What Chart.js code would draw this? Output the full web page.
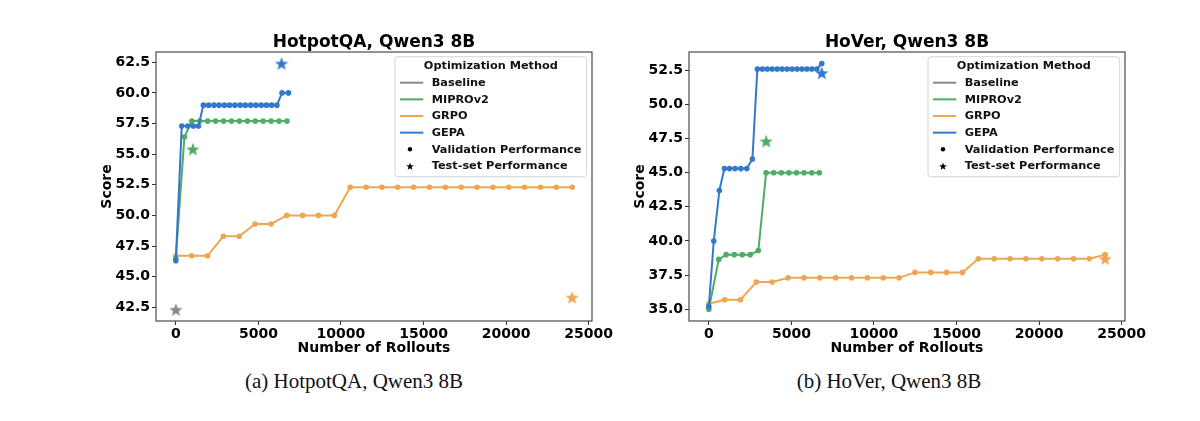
<!DOCTYPE html>
<html>
<head>
<meta charset="utf-8">
<script src="https://cdn.jsdelivr.net/npm/chart.js@4.4.1/dist/chart.umd.min.js"></script>
<style>
    body { margin: 0; background: #fff; width: 1200px; height: 421px; position: relative; overflow: hidden; }
    canvas { position: absolute; top: 0; }
    #hotpot { left: 0; }
    #hover { left: 600px; }
    .caption { position: absolute; top: 369px; line-height: 24px; font-family: "Liberation Serif", serif; font-size: 21px; color: #111; transform: translateX(-50%); white-space: nowrap; }
</style>
</head>
<body>
<canvas id="hotpot" width="620" height="365"></canvas>
<canvas id="hover" width="600" height="365"></canvas>
<div class="caption" style="left:354px">(a) HotpotQA, Qwen3 8B</div>
<div class="caption" style="left:889px">(b) HoVer, Qwen3 8B</div>
<script>
// values
const methods = ['Baseline', 'MIPROv2', 'GRPO', 'GEPA'];
const markerLabels = ['Validation Performance', 'Test-set Performance'];
const xTicks = [0, 5000, 10000, 15000, 20000, 25000];
const hotpotYTicks = [42.5, 45.0, 47.5, 50.0, 52.5, 55.0, 57.5, 60.0, 62.5];
const hoverYTicks = [35.0, 37.5, 40.0, 42.5, 45.0, 47.5, 50.0, 52.5];

// GRPO is checkpointed at the same rollout counts in both panels
const grpoX = [0, 960, 1920, 2880, 3840, 4800, 5760, 6720, 7680, 8640, 9600, 10560, 11520,
    12480, 13440, 14400, 15360, 16320, 17280, 18240, 19200, 20160, 21120, 22080, 23040, 24000];

// HotpotQA
const hotpotGepaX = [0, 360, 720, 1060, 1370, 1670, 1990, 2310, 2620, 2940, 3260, 3580, 3900,
    4210, 4530, 4850, 5170, 5480, 5800, 6120, 6430, 6820];
const hotpotGepaY = [46.3, 57.3, 57.3, 57.3, 57.3, 59.0, 59.0, 59.0, 59.0, 59.0, 59.0, 59.0, 59.0,
    59.0, 59.0, 59.0, 59.0, 59.0, 59.0, 59.0, 60.0, 60.0];
const hotpotMiproX = [0, 520, 970, 1450, 1930, 2410, 2890, 3370, 3850, 4330, 4810, 5290, 5770, 6250, 6730];
const hotpotMiproY = [46.5, 56.4, 57.7, 57.7, 57.7, 57.7, 57.7, 57.7, 57.7, 57.7, 57.7, 57.7, 57.7, 57.7, 57.7];
const hotpotGrpoY = [46.7, 46.7, 46.7, 48.3, 48.3, 49.3, 49.3, 50.0, 50.0, 50.0, 50.0, 52.3, 52.3,
    52.3, 52.3, 52.3, 52.3, 52.3, 52.3, 52.3, 52.3, 52.3, 52.3, 52.3, 52.3, 52.3];
// test-set stars
const hotpotTestMethods = ['Baseline', 'MIPROv2', 'GRPO', 'GEPA'];
const hotpotTestX = [0, 1030, 24000, 6400];
const hotpotTestY = [42.3, 55.4, 43.3, 62.4];

// HoVer
const hoverGepaX = [0, 300, 640, 945, 1250, 1590, 1940, 2300, 2640, 2940, 3240, 3540, 3840, 4140,
    4440, 4740, 5040, 5340, 5640, 5940, 6240, 6540, 6840];
const hoverGepaY = [35.2, 40.0, 43.7, 45.3, 45.3, 45.3, 45.3, 45.3, 46.0, 52.6, 52.6, 52.6, 52.6, 52.6,
    52.6, 52.6, 52.6, 52.6, 52.6, 52.6, 52.6, 52.6, 53.0];
const hoverMiproX = [0, 600, 1050, 1540, 2030, 2510, 3000, 3470, 3930, 4390, 4850, 5310, 5770, 6230, 6690];
const hoverMiproY = [35.0, 38.65, 39.0, 39.0, 39.0, 39.0, 39.3, 45.0, 45.0, 45.0, 45.0, 45.0, 45.0, 45.0, 45.0];
const hoverGrpoY = [35.4, 35.7, 35.7, 37.0, 37.0, 37.3, 37.3, 37.3, 37.3, 37.3, 37.3, 37.3, 37.3,
    37.7, 37.7, 37.7, 37.7, 38.7, 38.7, 38.7, 38.7, 38.7, 38.7, 38.7, 38.7, 39.0];
const hoverTestMethods = ['MIPROv2', 'GRPO', 'GEPA'];
const hoverTestX = [3470, 24000, 6840];
const hoverTestY = [47.3, 38.7, 52.3];

const colors = {
    Baseline: 'rgb(138, 138, 138)',
    MIPROv2: 'rgb(78, 172, 104)',
    GRPO: 'rgb(238, 166, 82)',
    GEPA: 'rgb(50, 120, 205)'
};
const FONT = 'DejaVu Sans';

Chart.defaults.font.family = FONT;
Chart.defaults.color = '#000';

function pairs(xs, ys) {
    return xs.map((x, i) => ({ x: x, y: ys[i] }));
}

function starImage(color, size) {
    const c = document.createElement('canvas');
    c.width = size;
    c.height = size;
    const g = c.getContext('2d');
    const r = size / 2;
    g.beginPath();
    for (let i = 0; i < 10; i++) {
        const a = -Math.PI / 2 + i * Math.PI / 5;
        const rr = i % 2 ? r * 0.42 : r;
        g.lineTo(r + rr * Math.cos(a), r + 0.6 + rr * Math.sin(a));
    }
    g.closePath();
    g.fillStyle = color;
    g.fill();
    return c;
}

function lineSet(name, xs, ys, order) {
    return {
        label: name,
        data: pairs(xs, ys),
        borderColor: colors[name],
        backgroundColor: colors[name],
        borderWidth: 2,
        pointRadius: 2.8,
        pointBorderWidth: 0,
        pointBackgroundColor: colors[name],
        tension: 0,
        order: order
    };
}

// title, frame and legend box, placed against the chart area
const panelDecor = {
    id: 'panelDecor',
    afterDatasetsDraw(chart, args, opts) {
        const ctx = chart.ctx;
        const a = chart.chartArea;
        ctx.save();

        ctx.strokeStyle = '#3a3a3a';
        ctx.lineWidth = 1.1;
        ctx.strokeRect(a.left, a.top, a.right - a.left, a.bottom - a.top);

        ctx.fillStyle = '#000';
        ctx.font = 'bold 17px ' + FONT;
        ctx.textAlign = 'center';
        ctx.textBaseline = 'alphabetic';
        ctx.fillText(opts.title, (a.left + a.right) / 2, 47);

        const w = 191.7, h = 120;
        const bx = a.right - 5.3 - w;
        const by = a.top + 4.7;
        ctx.beginPath();
        ctx.roundRect(bx, by, w, h, 3);
        ctx.fillStyle = 'rgba(255,255,255,0.85)';
        ctx.fill();
        ctx.strokeStyle = '#d4d4d4';
        ctx.lineWidth = 1;
        ctx.stroke();

        ctx.fillStyle = '#111';
        ctx.font = 'bold 11.3px ' + FONT;
        ctx.textBaseline = 'middle';
        ctx.fillText('Optimization Method', bx + w / 2, by + 9);

        ctx.textAlign = 'left';
        const rows = methods.concat(markerLabels);
        rows.forEach((label, i) => {
            const y = by + 26 + i * 16.65;
            if (i < methods.length) {
                ctx.strokeStyle = colors[label];
                ctx.lineWidth = 2;
                ctx.beginPath();
                ctx.moveTo(bx + 5, y);
                ctx.lineTo(bx + 28.3, y);
                ctx.stroke();
            } else if (label === markerLabels[0]) {
                ctx.fillStyle = '#000';
                ctx.beginPath();
                ctx.arc(bx + 15, y, 2.2, 0, Math.PI * 2);
                ctx.fill();
            } else {
                ctx.drawImage(starImage('#000', 8), bx + 11, y - 4);
            }
            ctx.fillStyle = '#111';
            ctx.fillText(label, bx + 36.7, y + 0.5);
        });
        ctx.restore();
    }
};

function makeChart(id, cfg) {
    const tickFont = { family: FONT, size: 14, weight: 'bold' };
    const stars = {
        label: markerLabels[1],
        data: pairs(cfg.testX, cfg.testY),
        showLine: false,
        pointStyle: cfg.testMethods.map((m) => starImage(colors[m], 14)),
        order: 0
    };
    return new Chart(document.getElementById(id), {
        type: 'line',
        data: {
            datasets: [
                stars,
                lineSet('GEPA', cfg.gepaX, cfg.gepaY, 1),
                lineSet('MIPROv2', cfg.miproX, cfg.miproY, 2),
                lineSet('GRPO', grpoX, cfg.grpoY, 3)
            ]
        },
        options: {
            responsive: false,
            animation: false,
            events: [],
            layout: { padding: { left: cfg.padLeft, right: cfg.padRight, top: cfg.padTop, bottom: 8.6 } },
            plugins: {
                legend: { display: false },
                tooltip: { enabled: false },
                panelDecor: { title: cfg.title }
            },
            scales: {
                x: {
                    type: 'linear',
                    min: -1200,
                    max: 25200,
                    afterBuildTicks: (s) => { s.ticks = xTicks.map((v) => ({ value: v })); },
                    afterFit: (s) => { s.height = 35.4; s.paddingLeft = 0; s.paddingRight = 0; },
                    ticks: { font: tickFont, color: '#000', padding: 1, maxRotation: 0, callback: (v) => String(v) },
                    grid: { drawOnChartArea: false, tickLength: 4, color: '#333' },
                    border: { display: false },
                    title: { display: true, text: 'Number of Rollouts', font: tickFont, color: '#000', padding: 0 }
                },
                y: {
                    type: 'linear',
                    min: cfg.yMin,
                    max: cfg.yMax,
                    afterBuildTicks: (s) => { s.ticks = cfg.yTicks.map((v) => ({ value: v })); },
                    afterFit: (s) => { s.width = 57.4; s.paddingTop = 0; s.paddingBottom = 0; },
                    ticks: { font: tickFont, color: '#000', padding: 2, callback: (v) => v.toFixed(1) },
                    grid: { drawOnChartArea: false, tickLength: 4, color: '#333' },
                    border: { display: false },
                    title: { display: true, text: 'Score', font: tickFont, color: '#000', padding: 0 }
                }
            }
        },
        plugins: [panelDecor]
    });
}

makeChart('hotpot', {
    title: 'HotpotQA, Qwen3 8B',
    gepaX: hotpotGepaX, gepaY: hotpotGepaY,
    miproX: hotpotMiproX, miproY: hotpotMiproY,
    grpoY: hotpotGrpoY,
    testMethods: hotpotTestMethods, testX: hotpotTestX, testY: hotpotTestY,
    yTicks: hotpotYTicks, yMin: 41.38, yMax: 63.34,
    padLeft: 98.6, padRight: 28, padTop: 52
});

makeChart('hover', {
    title: 'HoVer, Qwen3 8B',
    gepaX: hoverGepaX, gepaY: hoverGepaY,
    miproX: hoverMiproX, miproY: hoverMiproY,
    grpoY: hoverGrpoY,
    testMethods: hoverTestMethods, testX: hoverTestX, testY: hoverTestY,
    yTicks: hoverYTicks, yMin: 34.14, yMax: 53.84,
    padLeft: 31.6, padRight: 75, padTop: 52
});
</script>
</body>
</html>
